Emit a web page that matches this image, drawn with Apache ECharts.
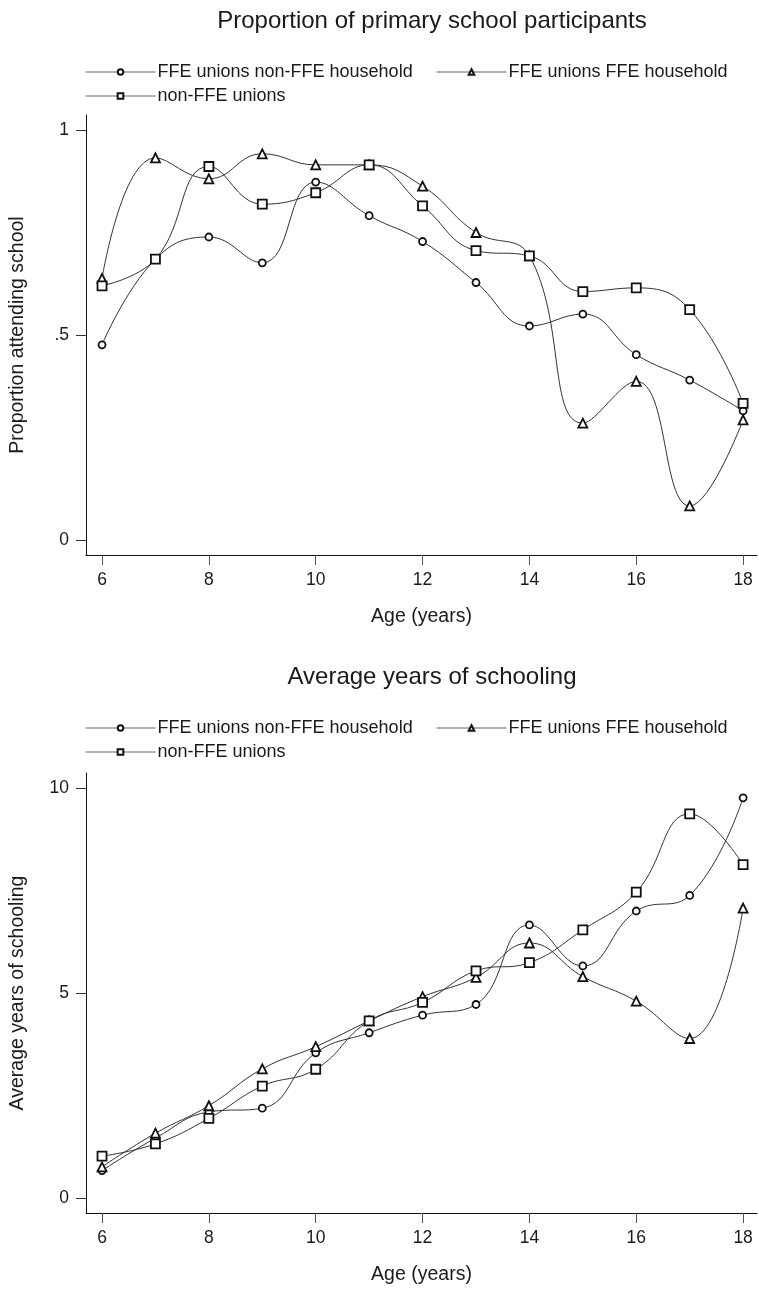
<!DOCTYPE html>
<html>
<head>
<meta charset="utf-8">
<script src="https://cdn.jsdelivr.net/npm/echarts@6/dist/echarts.min.js"></script>
<style>
html,body{margin:0;padding:0;background:#fff;}
#c{width:759px;height:1289px;}
</style>
</head>
<body>
<div id="c"></div>
<script>
const ages = [6,7,8,9,10,11,12,13,14,15,16,17,18];
const xTicks = [6,8,10,12,14,16,18];
const seriesNames = ['FFE unions non-FFE household','FFE unions FFE household','non-FFE unions'];

// Proportion of primary school participants
const propNonFFEHouse = [0.476,0.685,0.739,0.676,0.873,0.791,0.728,0.628,0.522,0.551,0.452,0.390,0.315];
const propFFEHouse    = [0.638,0.932,0.881,0.942,0.915,0.915,0.863,0.750,0.693,0.285,0.387,0.083,0.293];
const propNonFFEUnion = [0.620,0.685,0.911,0.819,0.847,0.915,0.815,0.706,0.693,0.606,0.615,0.562,0.333];
const propTicks = [0,0.5,1];
const propTickLabels = ['0','.5','1'];

// Average years of schooling
const yrsNonFFEHouse = [0.67,1.46,2.10,2.19,3.54,4.03,4.46,4.72,6.66,5.66,7.00,7.38,9.76];
const yrsFFEHouse    = [0.76,1.58,2.25,3.15,3.69,4.32,4.91,5.38,6.22,5.40,4.80,3.89,7.07];
const yrsNonFFEUnion = [1.02,1.32,1.94,2.73,3.14,4.32,4.77,5.54,5.74,6.54,7.46,9.37,8.13];
const yrsTicks = [0,5,10];
const yrsTickLabels = ['0','5','10'];

const FONT = 'Liberation Sans, Arial, Helvetica, sans-serif';
const symbols = ['circle','triangle','rect'];
const symSizes = [7,9,9];

function pair(vals){ return ages.map((a,i)=>[a, vals[i]]); }

function mkSeries(name, idx, vals, axisIdx){
  return {
    name: name, type: 'line', xAxisIndex: axisIdx, yAxisIndex: axisIdx,
    data: pair(vals), smooth: 0.45,
    symbol: symbols[idx], symbolSize: symSizes[idx], showSymbol: true,
    lineStyle: {color:'#333', width:1},
    itemStyle: {color:'#fff', borderColor:'#111', borderWidth:1.8},
    emphasis: {disabled:true}, animation:false, z: 2
  };
}

function xAxis(gi){
  return {
    type:'value', gridIndex: gi, min:5.7, max:18.26,
    name:'Age (years)', nameLocation:'middle', nameGap:52,
    nameTextStyle:{fontFamily:FONT, fontSize:19.5, color:'#1a1a1a'},
    axisLine:{show:true, onZero:false, lineStyle:{color:'#111', width:1}},
    axisTick:{show:true, length:10, customValues:xTicks, lineStyle:{color:'#555'}},
    axisLabel:{customValues:xTicks, margin:16, fontFamily:FONT, fontSize:17.5, color:'#1a1a1a'},
    splitLine:{show:false}
  };
}
function yAxis(gi, min, max, ticks, labels, name){
  return {
    type:'value', gridIndex: gi, min:min, max:max,
    name:name, nameLocation:'middle', nameGap:58,
    nameTextStyle:{fontFamily:FONT, fontSize:19.5, color:'#1a1a1a'},
    axisLine:{show:true, onZero:false, lineStyle:{color:'#111', width:1}},
    axisTick:{show:true, length:10, customValues:ticks, lineStyle:{color:'#333'}},
    axisLabel:{customValues:ticks, margin:17, fontFamily:FONT, fontSize:17.5, color:'#1a1a1a',
      formatter: v => { const i = ticks.findIndex(t=>Math.abs(t-v)<1e-9); return i>=0?labels[i]:''; }},
    splitLine:{show:false}
  };
}
function legend(name, left, top){
  return {
    data:[name], left:left, top:top, orient:'horizontal', padding:0,
    itemWidth:70, itemHeight:7, itemGap:5,
    textStyle:{fontFamily:FONT, fontSize:18, color:'#1a1a1a', padding:[0,0,0,-3]},
    lineStyle:{color:'#666', width:1},
    selectedMode:false
  };
}

const option = {
  backgroundColor:'#fff',
  animation:false,
  title:[
    {text:'Proportion of primary school participants', left:427, top:4, textAlign:'center',
     textStyle:{fontFamily:FONT, fontSize:24, fontWeight:'normal', color:'#1a1a1a'}},
    {text:'Average years of schooling', left:427, top:660, textAlign:'center',
     textStyle:{fontFamily:FONT, fontSize:24, fontWeight:'normal', color:'#1a1a1a'}}
  ],
  legend:[
    legend(seriesNames[0], 85, 63),
    legend(seriesNames[1], 436, 63),
    legend(seriesNames[2], 85, 87),
    legend(seriesNames[0], 85, 719),
    legend(seriesNames[1], 436, 719),
    legend(seriesNames[2], 85, 743)
  ],
  grid:[
    {left:85, top:115, width:672, height:440},
    {left:85, top:773, width:672, height:440}
  ],
  xAxis:[xAxis(0), xAxis(1)],
  yAxis:[
    yAxis(0, -0.0366, 1.0366, propTicks, propTickLabels, 'Proportion attending school'),
    yAxis(1, -0.366, 10.366, yrsTicks, yrsTickLabels, 'Average years of schooling')
  ],
  series:[
    mkSeries(seriesNames[0],0,propNonFFEHouse,0),
    mkSeries(seriesNames[1],1,propFFEHouse,0),
    mkSeries(seriesNames[2],2,propNonFFEUnion,0),
    mkSeries(seriesNames[0],0,yrsNonFFEHouse,1),
    mkSeries(seriesNames[1],1,yrsFFEHouse,1),
    mkSeries(seriesNames[2],2,yrsNonFFEUnion,1)
  ]
};
const chart = echarts.init(document.getElementById('c'), null, {renderer:'canvas'});
chart.setOption(option);
</script>
</body>
</html>
